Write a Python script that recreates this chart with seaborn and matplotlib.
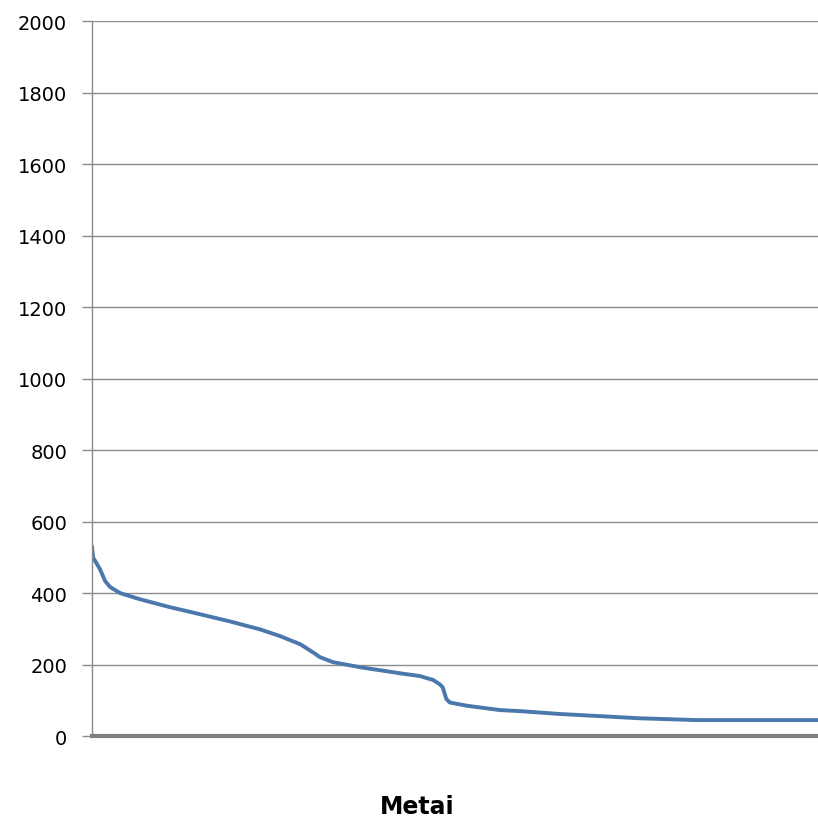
import matplotlib.pyplot as plt
import seaborn as sns
import pandas as pd

# Values (position along the x axis in % of width):
positions = [0, 0.14, 1.1, 1.8, 2.5, 3.9, 6.6, 10.7, 14.9, 19.0, 23.1, 25.9,
             28.7, 30.4, 31.4, 33.2, 36.9, 42.4, 45.2, 47.0, 47.9, 48.3, 48.8,
             49.3, 51.7, 56.2, 59.0, 64.5, 70.0, 75.5, 83.3, 100]
values = [531, 500, 467, 434, 417, 400, 383, 361, 341, 321, 299, 280,
          257, 235, 221, 207, 193, 176, 168, 157, 145, 137, 104,
          94, 85, 73, 70, 62, 56, 50, 45, 45]
yticks = [0, 200, 400, 600, 800, 1000, 1200, 1400, 1600, 1800, 2000]

df = pd.DataFrame({"pos": positions, "value": values})

sns.set_style("white")
fig = plt.figure(figsize=(8.18, 8.2), dpi=100)
ax = fig.add_axes([0.1125, 0.101, 0.8875, 0.872])

sns.lineplot(data=df, x="pos", y="value", color="#4a78ad", linewidth=2.8,
             ax=ax)

ax.set_xlim(0, 100)
ax.set_ylim(0, 2000)
ax.set_yticks(yticks)
ax.set_yticklabels([str(t) for t in yticks], fontsize=14, color="black")
ax.set_xticks([])
ax.grid(axis="y", color="#8c8c8c", linewidth=1)
ax.set_axisbelow(True)

ax.spines[["top", "right"]].set_visible(False)
ax.spines["left"].set_color("#8c8c8c")
ax.spines["left"].set_linewidth(1)
ax.spines["bottom"].set_color("#7f7f7f")
ax.spines["bottom"].set_linewidth(3)
ax.tick_params(axis="y", length=7, width=1, color="#8c8c8c", pad=11,
               left=True)
ax.set_xlabel("")
ax.set_ylabel("")

fig.text(0.51, 0.007, "Metai", ha="center", va="baseline",
         fontsize=17, fontweight="bold", color="black")

plt.savefig("out.png")
